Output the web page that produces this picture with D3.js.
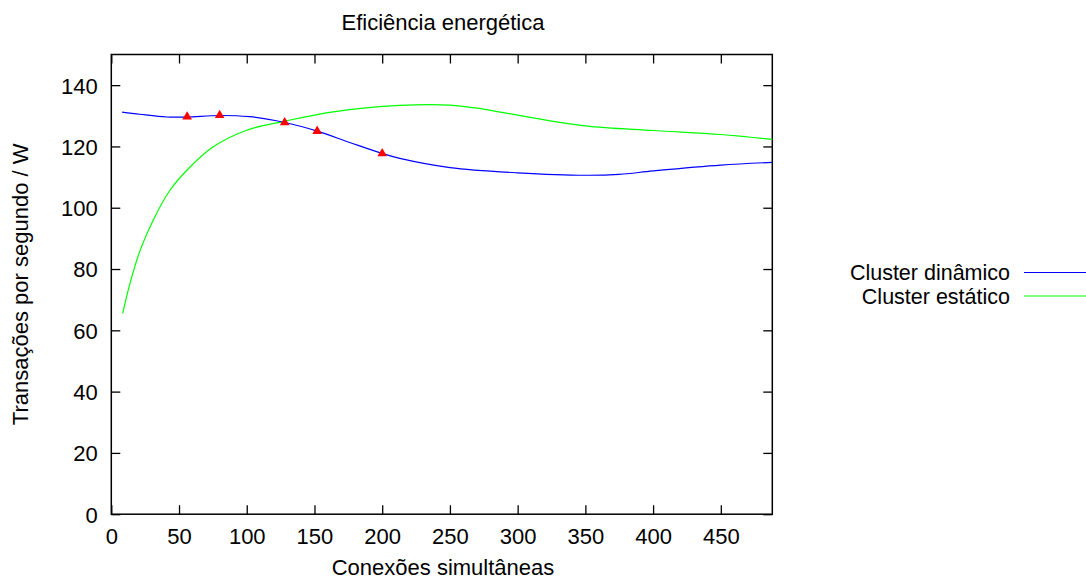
<!DOCTYPE html>
<html><head><meta charset="utf-8">
<script src="https://cdn.jsdelivr.net/npm/d3@7"></script>
<style>
html,body{margin:0;padding:0;background:#fff;}
svg{display:block;}
text{font-family:"Liberation Sans",Arial,Helvetica,sans-serif;fill:#000;}
</style></head>
<body><svg id="c" width="1086" height="580"></svg>
<script>
const title = "Eficiência energética";
const xLabel = "Conexões simultâneas";
const yLabel = "Transações por segundo / W";
const seriesNames = ["Cluster dinâmico", "Cluster estático"];
const xTicks = [0,50,100,150,200,250,300,350,400,450];
const yTicks = [0,20,40,60,80,100,120,140];

const dinamicoX = [8, 21, 41, 56, 80, 102, 128, 152, 176, 200, 213, 250, 300, 350, 375, 400, 450, 488];
const dinamicoY = [131.2, 130.5, 129.6, 129.6, 130.1, 129.7, 127.8, 125.0, 121.3, 117.7, 116.1, 113.1, 111.4, 110.6, 110.9, 112.0, 113.9, 114.8];

const estaticoX = [8.4, 13.8, 21.2, 31, 43.3, 58.1, 75.3, 99.9, 127.7, 163.8, 213, 250, 274.5, 300, 350, 400, 450, 488];
const estaticoY = [65.5, 75.3, 86.0, 96, 105.7, 113.3, 119.9, 125.3, 128.2, 131.3, 133.4, 133.5, 132.2, 130.2, 126.7, 125.2, 123.9, 122.3];

const markX = [56, 80, 128, 152, 200];
const markY = [129.7, 130.2, 127.8, 125.0, 117.7];

const svg = d3.select("#c");
const L = 111.3, R = 772.3, T = 54.5, B = 514.2;
const x = d3.scaleLinear().domain([0, 488]).range([L, R]);
const y = d3.scaleLinear().domain([0, 150]).range([B, T]);
const fs = 22;
const tickLen = 9;

svg.append("text").attr("x", 443).attr("y", 30).attr("text-anchor","middle").attr("font-size", fs).text(title);
svg.append("text").attr("x", 443).attr("y", 574.5).attr("text-anchor","middle").attr("font-size", fs).text(xLabel);
svg.append("text").attr("transform", `translate(27.5,${(T+B)/2}) rotate(-90)`).attr("text-anchor","middle").attr("font-size", fs).text(yLabel);

const gx = svg.append("g").attr("transform", `translate(0,${B})`)
  .call(d3.axisBottom(x).tickValues(xTicks).tickSize(-tickLen).tickPadding(14).tickFormat(d3.format("d")));
const gxt = svg.append("g").attr("transform", `translate(0,${T})`)
  .call(d3.axisTop(x).tickValues(xTicks).tickSize(-tickLen).tickFormat(""));
const gy = svg.append("g").attr("transform", `translate(${L},0)`)
  .call(d3.axisLeft(y).tickValues(yTicks).tickSize(-tickLen).tickPadding(13.5).tickFormat(d3.format("d")));
const gyr = svg.append("g").attr("transform", `translate(${R},0)`)
  .call(d3.axisRight(y).tickValues(yTicks).tickSize(-tickLen).tickFormat(""));
[gx,gxt,gy,gyr].forEach(g=>{
  g.select(".domain").remove();
  g.selectAll("line").attr("stroke","#000").attr("stroke-width",1.3);
  g.selectAll("text").attr("font-size", fs).attr("font-family","Liberation Sans, Arial, sans-serif").attr("fill","#000");
});
gy.selectAll("text").attr("dy","0.36em");

svg.append("rect").attr("x", L).attr("y", T).attr("width", R-L).attr("height", B-T)
  .attr("fill","none").attr("stroke","#000").attr("stroke-width",1.5);

const line = d3.line().x(d=>x(d[0])).y(d=>y(d[1])).curve(d3.curveCatmullRom.alpha(0.5));
const dinData = dinamicoX.map((v,i)=>[v, dinamicoY[i]]);
const estData = estaticoX.map((v,i)=>[v, estaticoY[i]]);

svg.append("path").datum(estData).attr("d", line).attr("fill","none").attr("stroke","#00ff00").attr("stroke-width",1.2);
svg.append("path").datum(dinData).attr("d", line).attr("fill","none").attr("stroke","#0000ff").attr("stroke-width",1.2);

const tri = d3.symbol().type(d3.symbolTriangle).size(40);
svg.selectAll(".mk").data(markX.map((v,i)=>[v, markY[i]])).enter().append("path")
  .attr("class","mk").attr("d", tri).attr("fill","#ff0000")
  .attr("transform", d=>`translate(${x(d[0])},${y(d[1])})`);

const legY = [272.5, 296];
seriesNames.forEach((n,i)=>{
  svg.append("text").attr("x", 1010).attr("y", legY[i]).attr("dy","0.36em").attr("text-anchor","end").attr("font-size", 21.5).text(n);
  svg.append("line").attr("x1",1024).attr("x2",1086).attr("y1",legY[i]).attr("y2",legY[i])
    .attr("stroke", i===0?"#0000ff":"#00ff00").attr("stroke-width",1.2);
});
</script></body></html>
